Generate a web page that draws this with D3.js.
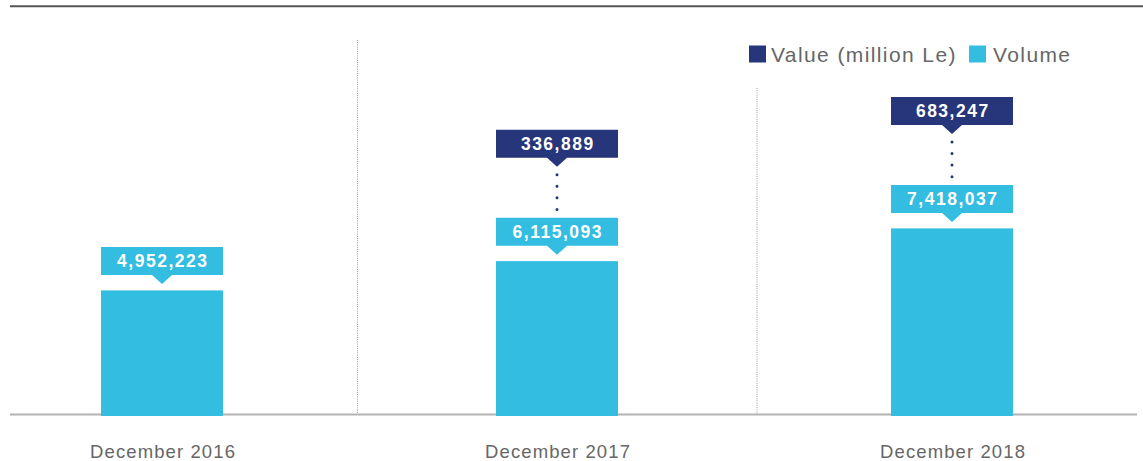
<!DOCTYPE html>
<html>
<head>
<meta charset="utf-8">
<script src="https://cdn.jsdelivr.net/npm/d3@7/dist/d3.min.js"></script>
<style>
  html, body { margin: 0; padding: 0; background: #fff; }
  svg { display: block; font-family: "Liberation Sans", Arial, Helvetica, sans-serif; }
</style>
</head>
<body>
<svg id="chart" width="1143" height="461"></svg>
<script>
// Mobile money transactions by period
const periods = ["December 2016", "December 2017", "December 2018"];
const volumes = [4952223, 6115093, 7418037];
const values = [null, 336889, 683247];            // million Le
const legendLabels = ["Value (million Le)", "Volume"];

const W = 1143, H = 461;
const navy = "#27357a", cyan = "#32bde1", grey = "#666666";
const baseY = 415, barW = 122;

const svg = d3.select("#chart");
const fmt = d3.format(",");

const x = d3.scalePoint().domain(periods).range([162, 952]);
const y = d3.scaleLinear().domain([0, 8000000]).range([baseY, baseY - 8000000 / 39750]);

// top rule
svg.append("line").attr("x1", 10).attr("x2", W).attr("y1", 6.3).attr("y2", 6.3)
  .attr("stroke", "#555").attr("stroke-width", 2);

// dotted separators between periods
const sepTops = [40, 88];
periods.slice(1).forEach((p, i) => {
  const sx = (x(periods[i]) + x(p)) / 2 - (i === 0 ? 2 : -2.5);
  svg.append("line").attr("x1", sx).attr("x2", sx).attr("y1", sepTops[i]).attr("y2", baseY)
    .attr("stroke", "#9a9a9a").attr("stroke-width", 1).attr("stroke-dasharray", "1,1.2");
});

// baseline
svg.append("line").attr("x1", 10).attr("x2", 1137).attr("y1", baseY - 0.5).attr("y2", baseY - 0.5)
  .attr("stroke", "#b3b3b3").attr("stroke-width", 2);

// volume bars
svg.append("g").selectAll("rect").data(periods).join("rect")
  .attr("x", d => x(d) - barW / 2)
  .attr("width", barW)
  .attr("y", (d, i) => y(volumes[i]))
  .attr("height", (d, i) => y(0) - y(volumes[i]) + 1)
  .attr("fill", cyan);

// callout box with a downward pointer
function callout(g, cx, bottom, fill, text) {
  const top = bottom - 28;
  g.append("path")
    .attr("d", `M${cx - barW / 2},${top}H${cx + barW / 2}V${bottom}H${cx + 10}L${cx},${bottom + 9}L${cx - 10},${bottom}H${cx - barW / 2}Z`)
    .attr("fill", fill);
  g.append("text").attr("x", cx + 0.8).attr("y", top + 20)
    .attr("text-anchor", "middle").attr("fill", "#fff")
    .attr("font-size", 17.5).attr("font-weight", "bold").attr("letter-spacing", 1.5)
    .text(text);
}

const labels = svg.append("g");
periods.forEach((p, i) => {
  const cx = x(p);
  const volBottom = y(volumes[i]) - 15.5;
  callout(labels, cx, volBottom, cyan, fmt(volumes[i]));
  if (values[i] != null) {
    const valBottom = volBottom - 28 - 60;
    callout(labels, cx, valBottom, navy, fmt(values[i]));
    labels.append("line")
      .attr("x1", cx).attr("x2", cx)
      .attr("y1", valBottom + 17).attr("y2", valBottom + 53)
      .attr("stroke", navy).attr("stroke-width", 3)
      .attr("stroke-linecap", "round").attr("stroke-dasharray", "0,11.6");
  }
});

// x axis labels
const axis = svg.append("g").attr("transform", `translate(0,${baseY})`)
  .call(d3.axisBottom(x).tickSize(0).tickPadding(29.4));
axis.select(".domain").remove();
axis.selectAll("text")
  .attr("font-family", "'Liberation Sans', Arial, Helvetica, sans-serif")
  .attr("font-size", 18.5).attr("fill", grey).attr("letter-spacing", 1.1)
  .attr("dx", 0.55);

// legend
const legend = svg.append("g");
const legendItems = [
  { label: legendLabels[0], color: navy, sx: 749, tx: 771 },
  { label: legendLabels[1], color: cyan, sx: 969, tx: 993 }
];
legendItems.forEach(it => {
  legend.append("rect").attr("x", it.sx).attr("y", 45.5).attr("width", 17).attr("height", 17).attr("fill", it.color);
  legend.append("text").attr("x", it.tx).attr("y", 62)
    .attr("font-size", 21).attr("fill", grey).attr("letter-spacing", 1.4)
    .text(it.label);
});
</script>
</body>
</html>
